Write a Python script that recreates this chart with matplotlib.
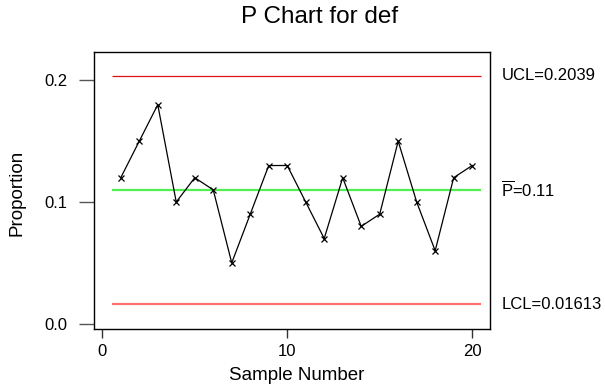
import numpy as np
import matplotlib
matplotlib.use("Agg")
import matplotlib.pyplot as plt
import matplotlib.transforms as mtransforms

plt.rcParams['font.family'] = ['Liberation Sans', 'DejaVu Sans']
plt.rcParams['mathtext.fontset'] = 'custom'
plt.rcParams['mathtext.rm'] = 'Liberation Sans'

# data
samples = np.arange(1, 21)
proportion = [0.12, 0.15, 0.18, 0.10, 0.12, 0.11, 0.05, 0.09, 0.13, 0.13,
              0.10, 0.07, 0.12, 0.08, 0.09, 0.15, 0.10, 0.06, 0.12, 0.13]
ucl = 0.2039
pbar = 0.11
lcl = 0.01613
limit_labels = ['UCL=0.2039', r'$\overline{\mathrm{P}}$=0.11', 'LCL=0.01613']
xticks = [0, 10, 20]
yticks = [0.0, 0.1, 0.2]

fig = plt.figure(figsize=(6.05, 3.89), dpi=100)
ax = fig.add_axes([0.1559, 0.155, 0.6545, 0.712])

# control limits
ax.hlines(ucl, 0.5, 20.5, color='#e01010', lw=0.9)
ax.hlines(pbar, 0.5, 20.5, color='#50f050', lw=1.6)
ax.hlines(lcl, 0.5, 20.5, color='#ff7070', lw=1.6)

ax.plot(samples, proportion, color='black', lw=0.9, marker='x',
        markersize=4.5, markeredgewidth=0.9)

ax.set_xlim(-0.43, 20.98)
ax.set_ylim(-0.0041, 0.2235)
ax.set_xticks(xticks)
ax.set_yticks(yticks)
ax.set_yticklabels(['%.1f' % v for v in yticks])

ax.tick_params(axis='x', direction='out', length=6.2, width=1, color='#333333',
               pad=5, labelsize=12)
ax.tick_params(axis='y', direction='out', length=10.8, width=1, color='#555555',
               pad=8.6, labelsize=12)
for s in ax.spines.values():
    s.set_linewidth(1.0)
    s.set_color('black')

ax.set_xlabel('Sample Number', fontsize=13.5)
ax.set_ylabel('Proportion', fontsize=13.5)
ax.xaxis.set_label_coords(0.51, -0.138)
ax.yaxis.set_label_coords(-0.175, 0.49)

trans = mtransforms.blended_transform_factory(ax.transAxes, ax.transData)
for val, lab in zip([ucl, pbar, lcl], limit_labels):
    ax.annotate(lab, xy=(1.0, val), xycoords=trans, xytext=(8, 0),
                textcoords='offset points', ha='left', va='center',
                fontsize=12)

fig.text(0.528, 0.956, 'P Chart for def', ha='center', va='center', fontsize=17.5)

fig.savefig('out.png', dpi=100)
